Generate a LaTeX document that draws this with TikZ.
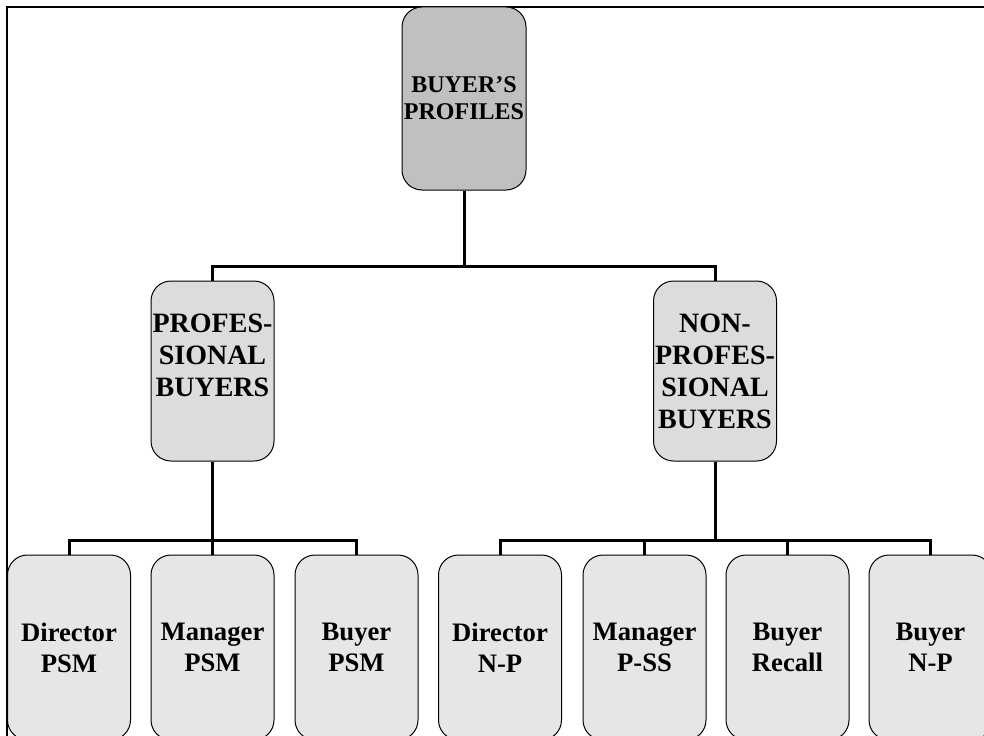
\documentclass[tikz,border=0pt]{standalone}
\usepackage{fontspec}
\setmainfont{Liberation Serif}
\begin{document}
\begin{tikzpicture}[x=0.75pt,y=-0.75pt,
  box/.style={draw=black,line width=0.75pt,rounded corners=15pt,inner sep=0pt,
    align=center,font=\bfseries},
  rootbox/.style={box,fill={rgb,255:red,192;green,192;blue,192},
    minimum width=93pt,minimum height=137.25pt,font=\bfseries\fontsize{18}{20.25}\selectfont},
  groupbox/.style={box,fill={rgb,255:red,220;green,220;blue,220},
    minimum width=92.25pt,minimum height=135pt,font=\bfseries\fontsize{21}{24}\selectfont},
  rolebox/.style={box,fill={rgb,255:red,230;green,230;blue,230},
    minimum width=92.25pt,minimum height=138.75pt,font=\bfseries\fontsize{20}{23.25}\selectfont},
  link/.style={draw=black,line width=2.25pt}]
\useasboundingbox (0,0) rectangle (984,735);
\clip (0,0) rectangle (984,735);

% outer frame
\draw[line width=1.5pt] (7,740) -- (7,7) -- (990,7);

% boxes
\node[rootbox] (root) at (464,98.5) {BUYER'S\\PROFILES};

\node[groupbox] (prof) at (212.5,371) {PROFES-\\SIONAL\\BUYERS\\\mbox{}};
\node[groupbox] (nonprof) at (715,371) {NON-\\PROFES-\\SIONAL\\BUYERS};

\node[rolebox] (dirpsm) at (69,647.5) {Director\\PSM};
\node[rolebox] (manpsm) at (212.5,647.5) {Manager\\PSM};
\node[rolebox] (buypsm) at (356.5,647.5) {Buyer\\PSM};
\node[rolebox] (dirnp) at (500,647.5) {Director\\N-P};
\node[rolebox] (manpss) at (644.5,647.5) {Manager\\P-SS};
\node[rolebox] (buyrec) at (787.5,647.5) {Buyer\\Recall};
\node[rolebox] (buynp) at (930.5,647.5) {Buyer\\N-P};

% bus levels
\coordinate (bustop) at (0,266);
\coordinate (buslow) at (0,540);

% connectors
\draw[link] (root.south) -- (root.south |- bustop) -| (prof.north);
\draw[link] (root.south |- bustop) -| (nonprof.north);

\draw[link] (prof.south) -- (prof.south |- buslow) -| (dirpsm.north);
\draw[link] (prof.south |- buslow) -| (buypsm.north);
\draw[link] (prof.south |- buslow) -- (manpsm.north);

\draw[link] (nonprof.south) -- (nonprof.south |- buslow) -| (dirnp.north);
\draw[link] (nonprof.south |- buslow) -| (buynp.north);
\draw[link] (manpss.north |- buslow) -- (manpss.north);
\draw[link] (buyrec.north |- buslow) -- (buyrec.north);
\end{tikzpicture}
\end{document}
